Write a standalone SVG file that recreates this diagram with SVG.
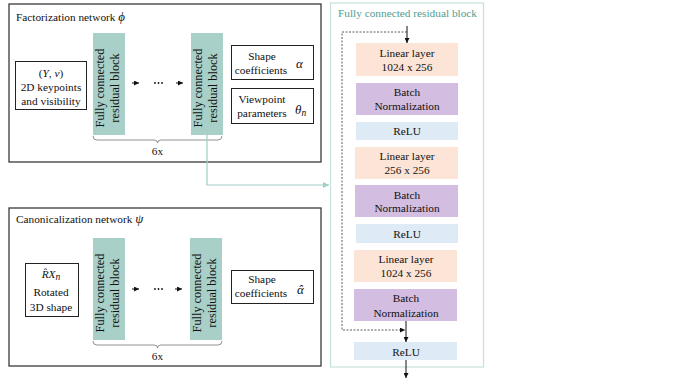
<svg xmlns="http://www.w3.org/2000/svg" width="677" height="379" viewBox="0 0 677 379" font-family="'Liberation Serif', 'DejaVu Serif', 'Times New Roman', Times, serif">
<defs>
<marker id="ah" viewBox="0 0 6 6" refX="6" refY="3" markerWidth="5" markerHeight="5" orient="auto" markerUnits="userSpaceOnUse"><path d="M0,0 L6,3 L0,6 z" fill="#111"/></marker>
<marker id="aht" viewBox="0 0 6 6" refX="6" refY="3" markerWidth="6" markerHeight="6" orient="auto" markerUnits="userSpaceOnUse"><path d="M0,0 L6,3 L0,6 z" fill="#9fcec5"/></marker>
</defs>
<style>
text{font-family:'Liberation Serif','DejaVu Serif','Times New Roman',Times,serif;fill:#111;}
.t{font-size:11.3px;}
.c{font-size:11.3px;text-anchor:middle;}
.r{font-size:12.3px;text-anchor:middle;}
.m{font-style:italic;}
.outer{fill:#fff;stroke:#3a3a3a;stroke-width:1.3;}
.box{fill:#fff;stroke:#222;stroke-width:1;}
.teal{fill:#a8d0c8;}
.lin{fill:#fce4d6;}
.bn{fill:#d3bde0;}
.relu{fill:#deebf6;}
.arr{stroke:#111;stroke-width:1;fill:none;}
.brace{stroke:#777;stroke-width:0.8;fill:none;}
</style>
<rect width="677" height="379" fill="#fff"/>

<g id="factorization">
<rect class="outer" x="9" y="4" width="312" height="158"/>
<text class="t" x="16" y="21">Factorization network <tspan class="m" font-size="13">ϕ</tspan></text>
</g>
<g id="fact-input">
<rect class="box" x="15.5" y="61.5" width="71" height="48"/>
<text class="c" x="51" y="77" font-size="12.5"><tspan>(</tspan><tspan class="m">Y</tspan><tspan>, </tspan><tspan class="m">v</tspan><tspan>)</tspan></text>
<text class="c" x="51" y="91">2D keypoints</text>
<text class="c" x="51" y="105">and visibility</text>
</g>
<g id="fact-block1">
<rect class="teal" x="93" y="33" width="32" height="102"/>
<text class="r" transform="translate(104,88) rotate(-90)">Fully connected</text>
<text class="r" transform="translate(119,88) rotate(-90)">residual block</text>
</g>
<g id="fact-block2">
<rect class="teal" x="191" y="33" width="32" height="102"/>
<text class="r" transform="translate(202,88) rotate(-90)">Fully connected</text>
<text class="r" transform="translate(217,88) rotate(-90)">residual block</text>
</g>
<g id="fact-shape">
<rect class="box" x="231.5" y="45.5" width="82" height="34"/>
<text class="c" x="262" y="60">Shape</text>
<text class="c" x="261" y="74">coefficients</text>
<text class="m" x="296" y="68" font-size="13">α</text>
</g>
<g id="fact-view">
<rect class="box" x="231.5" y="88.5" width="82" height="35"/>
<text class="c" x="262" y="103">Viewpoint</text>
<text class="c" x="262" y="117">parameters</text>
<text class="m" x="295" y="114" font-size="13">θ<tspan font-size="9.5" dy="2">n</tspan></text>
</g>

<g id="canonicalization">
<rect class="outer" x="9" y="208" width="312" height="158"/>
<text class="t" x="16" y="223">Canonicalization network <tspan class="m" font-size="13">ψ</tspan></text>
</g>
<g id="canon-input">
<rect class="box" x="25.5" y="263.5" width="53" height="53"/>
<text class="c m" x="51" y="278" font-size="12.5">R̂X<tspan font-size="9.5" dy="2">n</tspan></text>
<text class="c" x="51" y="296">Rotated</text>
<text class="c" x="51" y="311">3D shape</text>
</g>
<g id="canon-block1">
<rect class="teal" x="93" y="238" width="32" height="102"/>
<text class="r" transform="translate(104,293) rotate(-90)">Fully connected</text>
<text class="r" transform="translate(119,293) rotate(-90)">residual block</text>
</g>
<g id="canon-block2">
<rect class="teal" x="190" y="238" width="32" height="102"/>
<text class="r" transform="translate(201,293) rotate(-90)">Fully connected</text>
<text class="r" transform="translate(216,293) rotate(-90)">residual block</text>
</g>
<g id="canon-shape">
<rect class="box" x="231.5" y="270.5" width="82" height="33"/>
<text class="c" x="262" y="283">Shape</text>
<text class="c" x="261" y="297">coefficients</text>
<text class="m" x="297" y="294" font-size="13">α<tspan dx="-5.5">ˆ</tspan></text>
</g>

<g id="panel">
<rect x="330.5" y="3" width="153" height="364" fill="#fff" stroke="#c6e1dc" stroke-width="1.2"/>
<text class="c" x="407.5" y="17" style="fill:#4f9d8f">Fully connected residual block</text>
</g>
<g id="lin1"><rect class="lin" x="356" y="43" width="102" height="33"/><text class="c" x="407" y="57">Linear layer</text><text class="c" x="407" y="71">1024 x 256</text></g>
<g id="bn1"><rect class="bn" x="356" y="83" width="102" height="32"/><text class="c" x="407" y="96">Batch</text><text class="c" x="407" y="110">Normalization</text></g>
<g id="relu1"><rect class="relu" x="356" y="122" width="102" height="18"/><text class="c" x="407" y="135">ReLU</text></g>
<g id="lin2"><rect class="lin" x="355" y="147" width="103" height="32"/><text class="c" x="407" y="160">Linear layer</text><text class="c" x="407" y="174">256 x 256</text></g>
<g id="bn2"><rect class="bn" x="355" y="185" width="103" height="32"/><text class="c" x="407" y="199">Batch</text><text class="c" x="407" y="212">Normalization</text></g>
<g id="relu2"><rect class="relu" x="356" y="224" width="102" height="19"/><text class="c" x="407" y="238">ReLU</text></g>
<g id="lin3"><rect class="lin" x="354" y="250" width="103" height="32"/><text class="c" x="406" y="263">Linear layer</text><text class="c" x="406" y="277">1024 x 256</text></g>
<g id="bn3"><rect class="bn" x="354" y="289" width="103" height="32"/><text class="c" x="406" y="302">Batch</text><text class="c" x="406" y="317">Normalization</text></g>
<g id="relu3"><rect class="relu" x="354" y="342" width="103" height="18"/><text class="c" x="406" y="356">ReLU</text></g>

<g id="connectors">
<line class="arr" x1="132" y1="83" x2="139" y2="83" marker-end="url(#ah)"/>
<circle cx="155" cy="83" r="0.9" fill="#111"/><circle cx="158.5" cy="83" r="0.9" fill="#111"/><circle cx="162" cy="83" r="0.9" fill="#111"/>
<line class="arr" x1="176" y1="83" x2="183" y2="83" marker-end="url(#ah)"/>
<line class="arr" x1="132" y1="289" x2="139" y2="289" marker-end="url(#ah)"/>
<circle cx="155" cy="289" r="0.9" fill="#111"/><circle cx="158.5" cy="289" r="0.9" fill="#111"/><circle cx="162" cy="289" r="0.9" fill="#111"/>
<line class="arr" x1="175" y1="289" x2="182" y2="289" marker-end="url(#ah)"/>
<path class="brace" d="M93,136 q0,4 4,4 H154 q3.5,0 3.5,3 q0,-3 3.5,-3 H218 q4,0 4,-4"/>
<text class="c" x="157.5" y="155">6x</text>
<path class="brace" d="M93,341 q0,4 4,4 H154 q3.5,0 3.5,3 q0,-3 3.5,-3 H218 q4,0 4,-4"/>
<text class="c" x="157.5" y="360">6x</text>
<polyline points="207,135 207,185 329,185" fill="none" stroke="#9fcec5" stroke-width="1.2" marker-end="url(#aht)"/>
<line class="arr" x1="407" y1="26" x2="407" y2="43" marker-end="url(#ah)"/>
<polyline points="407,32 342,32 342,330 405,330" fill="none" stroke="#333" stroke-width="0.8" stroke-dasharray="2,1.5" marker-end="url(#ah)"/>
<line class="arr" x1="406" y1="321" x2="406" y2="342" marker-end="url(#ah)"/>
<line class="arr" x1="406" y1="360" x2="406" y2="378" marker-end="url(#ah)"/>
</g>
</svg>
